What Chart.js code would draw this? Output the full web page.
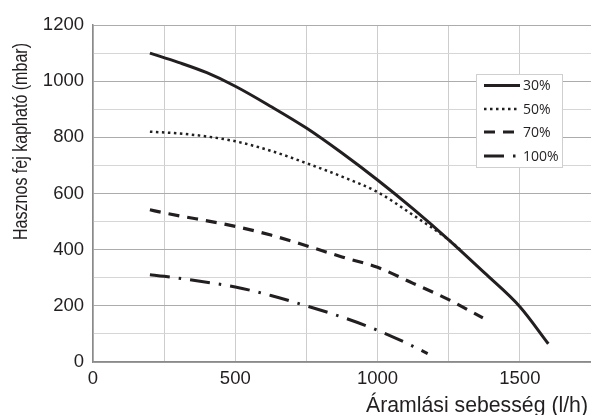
<!DOCTYPE html>
<html lang="hu">
<head>
    <meta charset="UTF-8">
    <title>Hasznos fej kapható</title>
    <script src="https://cdn.jsdelivr.net/npm/chart.js"></script>
    <style>
        body { margin: 0; padding: 0; background: #fff; }
        canvas { display: block; }
    </style>
</head>
<body>
    <canvas id="pumpChart" width="591" height="415"></canvas>

    <script>
        // Sorozatok (szivattyú fokozat)
        const seriesNames = ['30%', '50%', '70%', '100%'];

        // Áramlási sebesség (l/h) és hasznos emelőmagasság (mbar) soronként
        const flow30 = [200, 300, 400, 500, 625, 750, 875, 1000, 1125, 1250, 1375, 1500, 1600];
        const head30 = [1100, 1067, 1030, 982, 910, 833, 744, 648, 545, 435, 318, 197, 65];

        const flow50 = [200, 300, 400, 500, 625, 750, 875, 1000, 1125, 1250, 1290];
        const head50 = [820, 814, 803, 786, 752, 708, 660, 605, 523, 435, 400];

        const flow70 = [200, 250, 500, 625, 750, 875, 1000, 1125, 1250, 1370];
        const head70 = [542, 531, 483, 452, 414, 374, 337, 280, 222, 157];

        const flow100 = [200, 250, 500, 625, 750, 875, 1000, 1125, 1176];
        const head100 = [311, 305, 267, 237, 200, 160, 113, 56, 30];

        // Tengelyek
        const xMax = 1750;
        const xStep = 250;
        const xLabelEvery = 500;
        const yMax = 1200;
        const yStep = 100;
        const yLabelEvery = 200;

        const xTitle = 'Áramlási sebesség (l/h)';
        const yTitle = 'Hasznos fej kapható (mbar)';

        const ink = '#231f20';
        const sans = "'Liberation Sans', Arial, sans-serif";

        function toPoints(xs, ys) {
            return xs.map((x, i) => ({ x: x, y: ys[i] }));
        }

        const lineStyles = [
            { width: 3, dash: [] },
            { width: 2.5, dash: [2.5, 3.5] },
            { width: 3.2, dash: [11, 8] },
            { width: 3, dash: [20, 9, 2.5, 9] }
        ];
        const allData = [
            toPoints(flow30, head30),
            toPoints(flow50, head50),
            toPoints(flow70, head70),
            toPoints(flow100, head100)
        ];

        const datasets = seriesNames.map((name, i) => ({
            label: name,
            data: allData[i],
            borderColor: ink,
            borderWidth: lineStyles[i].width,
            borderDash: lineStyles[i].dash,
            borderCapStyle: 'butt',
            pointRadius: 0,
            cubicInterpolationMode: 'monotone',
            fill: false
        }));

        // szöveg vízszintesen összenyomva, hogy a megadott szélességre férjen (keskeny betű helyett)
        function squeezedText(c, text, width) {
            const w = c.measureText(text).width;
            const k = Math.min(1, width / w);
            c.scale(k, 1);
            c.fillText(text, 0, 0);
        }

        // Tengelycímek és jelmagyarázat rajzolása
        const extras = {
            id: 'extras',
            afterDraw(chart) {
                const c = chart.ctx;
                c.save();
                c.fillStyle = ink;
                c.textBaseline = 'alphabetic';

                // x tengely címe (jobbra igazítva)
                c.save();
                c.font = '22px ' + sans;
                c.textAlign = 'right';
                c.translate(588, 412);
                squeezedText(c, xTitle, 222);
                c.restore();

                // y tengely címe (elforgatva)
                c.save();
                c.font = '21px ' + sans;
                c.textAlign = 'left';
                c.translate(27, 240);
                c.rotate(-Math.PI / 2);
                squeezedText(c, yTitle, 197);
                c.restore();

                // jelmagyarázat doboz
                c.fillStyle = '#fff';
                c.fillRect(476.5, 74.5, 86, 93);
                c.strokeStyle = '#cfcfcf';
                c.lineWidth = 1;
                c.strokeRect(476.5, 74.5, 86, 93);

                const rows = [85.5, 109, 132, 156];
                c.font = '14px "Open Sans", sans-serif';
                c.textAlign = 'left';
                c.textBaseline = 'middle';
                chart.data.datasets.forEach((ds, i) => {
                    const y = rows[i];
                    c.beginPath();
                    c.setLineDash(ds.borderDash);
                    c.lineCap = 'butt';
                    c.lineWidth = ds.borderWidth;
                    c.strokeStyle = ink;
                    c.moveTo(484, y);
                    c.lineTo(520, y);
                    c.stroke();
                    c.setLineDash([]);
                    c.fillStyle = ink;
                    c.fillText(ds.label, 523, y + 1);
                });
                c.restore();
            }
        };

        const ctx = document.getElementById('pumpChart').getContext('2d');
        const chart = new Chart(ctx, {
            type: 'line',
            data: { datasets: datasets },
            plugins: [extras],
            options: {
                responsive: false,
                animation: false,
                devicePixelRatio: 1,
                layout: { padding: { top: 25, right: 0, left: 0, bottom: 0 } },
                plugins: {
                    legend: { display: false },
                    tooltip: { enabled: false }
                },
                scales: {
                    x: {
                        type: 'linear',
                        min: 0,
                        max: xMax,
                        border: { color: '#8a8a8a', width: 1.5 },
                        grid: { color: '#cdcdcd', lineWidth: 1, drawTicks: false },
                        ticks: {
                            stepSize: xStep,
                            autoSkip: false,
                            maxRotation: 0,
                            padding: 6,
                            color: ink,
                            font: { family: sans, size: 18.5 },
                            callback: v => (v % xLabelEvery === 0 ? v : '')
                        },
                        afterFit: scale => {
                            scale.height = 53;
                            scale.paddingRight = 0;
                        }
                    },
                    y: {
                        min: 0,
                        max: yMax,
                        border: { color: '#8a8a8a', width: 1.5 },
                        grid: {
                            color: c => (c.tick && c.tick.value % yLabelEvery === 0 ? '#acacac' : '#d6d6d6'),
                            lineWidth: 1,
                            drawTicks: false
                        },
                        ticks: {
                            stepSize: yStep,
                            autoSkip: false,
                            padding: 9,
                            color: ink,
                            font: { family: sans, size: 18.5 },
                            callback: v => (v % yLabelEvery === 0 ? v : '')
                        },
                        afterFit: scale => { scale.width = 93; }
                    }
                }
            }
        });
    </script>
</body>
</html>
